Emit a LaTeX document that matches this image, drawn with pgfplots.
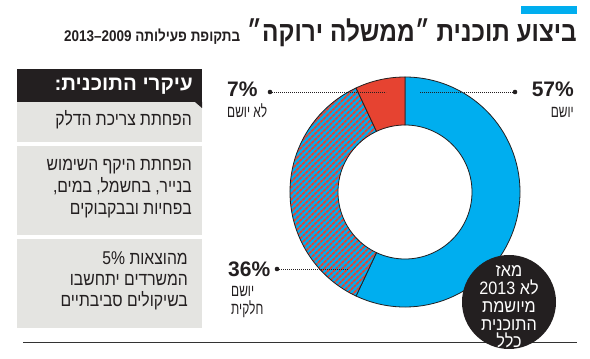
\documentclass[border=0pt]{standalone}
\usepackage{pgfplots}
\pgfplotsset{compat=1.18}
\usepackage{pgfplotstable}
\usepackage{fontspec}
\setmainfont{Liberation Sans}
\newfontfamily\heb[Script=Hebrew]{Liberation Sans}
\newfontfamily\hebt[Script=Hebrew,FakeStretch=0.87]{Liberation Sans}
\newfontfamily\hebb[Script=Hebrew,FakeStretch=0.85]{Liberation Sans}
\newfontfamily\hebn[Script=Hebrew,FakeStretch=0.7]{Liberation Sans}
\newfontfamily\hebc[Script=Hebrew,FakeStretch=0.9]{Liberation Sans}
\TeXXeTstate=1
\usetikzlibrary{patterns.meta}
\definecolor{cblue}{HTML}{00AEEF}
\definecolor{cred}{HTML}{E64331}
\definecolor{cblack}{HTML}{231F20}
\definecolor{cgray}{HTML}{E4E4E1}
\definecolor{cline}{HTML}{333333}
\pgfplotstableread{
label value
yes 57
partial 36
no 7
}\piedata
\def\ri{0.5826}
\newcommand\sector[3]{%
  \path[#3] (axis cs:{cos(#1)},{sin(#1)}) arc[start angle=#1, end angle=#2, radius=115pt]
    -- (axis cs:{\ri*cos(#2)},{\ri*sin(#2)}) arc[start angle=#2, end angle=#1, radius=67pt] -- cycle;}
\begin{document}%
\begin{tikzpicture}[x=1pt,y=1pt]
\pgfplotstablegetelem{0}{value}\of\piedata \edef\vA{\pgfplotsretval}
\pgfplotstablegetelem{1}{value}\of\piedata \edef\vB{\pgfplotsretval}
\pgfplotstablegetelem{2}{value}\of\piedata \edef\vC{\pgfplotsretval}
\pgfmathsetmacro\aTop{90}
\pgfmathsetmacro\aA{90-3.6*\vA}
\pgfmathsetmacro\aB{\aA-3.6*\vB}
\pgfmathsetmacro\aC{\aB-3.6*\vC}
\useasboundingbox (0,0) rectangle (590,359);
\begin{scope}[shift={(0,359)}, x=1pt, y=-1pt]
  % title
  \fill[cblue] (521,6) rectangle (577,14);
  \node[anchor=base east, inner sep=0, text=cblack] at (577,42)
    {\hebt\bfseries\fontsize{28}{30}\selectfont\beginR ביצוע תוכנית ״ממשלה ירוקה״ {\fontsize{15.5}{20}\selectfont בתקופת פעילותה \beginL2009\endL–\beginL2013\endL}\endR};
  % left panel
  \fill[cblack] (17,69) rectangle (202,102);
  \fill[cgray] (17,102) rectangle (202,142);
  \fill[cblack] (195,102) -- (202,102) -- (202,108) -- cycle;
  \fill[cgray] (17,146) rectangle (202,235);
  \fill[cgray] (17,239) rectangle (202,328);
  \node[anchor=base east, inner sep=0, text=white] at (193,91)
    {\heb\bfseries\fontsize{20.5}{22}\selectfont\beginR עיקרי התוכנית:\endR};
  \begin{scope}[every node/.style={anchor=base east, inner sep=0, text=cblack, font=\hebb\fontsize{18.5}{20}\selectfont}]
    \node at (192,126) {\beginR הפחתת צריכת הדלק\endR};
    \node at (192,171) {\beginR הפחתת היקף השימוש\endR};
    \node at (192,193) {\beginR בנייר, בחשמל, במים,\endR};
    \node at (192,215) {\beginR בפחיות ובבקבוקים\endR};
    \node at (188,265) {\beginR מהוצאות \beginL5\%\endL\endR};
    \node at (188,286) {\beginR המשרדים יתחשבו\endR};
    \node at (188,307) {\beginR בשיקולים סביבתיים\endR};
  \end{scope}
  % bottom line
  \draw[cline, line width=1pt] (23,343) -- (577,343);
\end{scope}
\begin{axis}[at={(405pt,167pt)}, anchor=origin, scale only axis, width=230pt, height=230pt,
  xmin=-1, xmax=1, ymin=-1, ymax=1, hide axis, clip=false]
  \sector{\aA}{\aTop}{fill=cblue, draw=cblack, line width=0.8pt}
  \sector{\aB}{\aA}{fill=cblue, draw=none}
  \sector{\aB}{\aA}{pattern={Lines[angle=45, distance=4pt, line width=2pt]}, pattern color=cred, draw=cblack, line width=0.8pt}
  \sector{\aC}{\aB}{fill=cred, draw=cblack, line width=0.8pt}
\end{axis}
\begin{scope}[shift={(0,359)}, x=1pt, y=-1pt]
  % leaders
  \begin{scope}[line width=0.7pt, cblack, dash pattern=on 0.8pt off 1.2pt]
    \draw (515,92) -- (420,92);
    \draw (270,92) -- (386,92);
    \draw (277,269) -- (348,269);
  \end{scope}
  \fill[cblack] (515,92) circle (2.3);
  \fill[cblack] (270,92) circle (2.3);
  \fill[cblack] (277,269) circle (2.3);
  % labels
  \node[anchor=base east, inner sep=0, text=cblack] at (574,97) {\bfseries\fontsize{21}{22}\selectfont 57\%};
  \node[anchor=base east, inner sep=0, text=cblack] at (574,118) {\hebn\fontsize{17}{18}\selectfont\beginR יושם\endR};
  \node[anchor=base west, inner sep=0, text=cblack] at (227,118) {\hebn\fontsize{17}{18}\selectfont\beginR לא יושם\endR};
  \node[anchor=base west, inner sep=0, text=cblack] at (227,97) {\bfseries\fontsize{21}{22}\selectfont 7\%};
  \node[anchor=base west, inner sep=0, text=cblack] at (228,277) {\bfseries\fontsize{21}{22}\selectfont 36\%};
  \node[anchor=base west, inner sep=0, text=cblack] at (231,297) {\hebn\fontsize{17}{18}\selectfont\beginR יושם\endR};
  \node[anchor=base west, inner sep=0, text=cblack] at (231,315) {\hebn\fontsize{17}{18}\selectfont\beginR חלקית\endR};
  % black circle
  \fill[cblack] (509,302) circle (47);
  \begin{scope}[every node/.style={anchor=base, inner sep=0, text=white, font=\hebc\fontsize{18}{20}\selectfont}]
    \node at (509,277) {\beginR מאז\endR};
    \node at (509,295) {\beginR לא \beginL2013\endL\endR};
    \node at (509,313) {\beginR מיושמת\endR};
    \node at (509,331) {\beginR התוכנית\endR};
    \node at (509,348) {\beginR כלל\endR};
  \end{scope}
\end{scope}
\end{tikzpicture}%
\end{document}
